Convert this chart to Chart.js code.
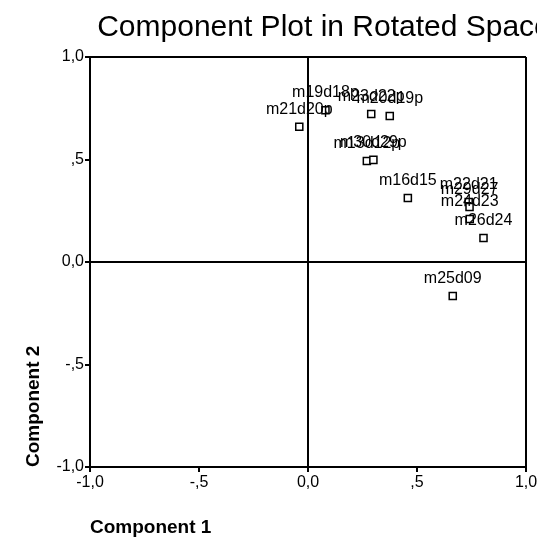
<!DOCTYPE html>
<html>
<head>
<meta charset="utf-8">
<script src="https://cdn.jsdelivr.net/npm/chart.js@4"></script>
<style>
html,body{margin:0;padding:0;background:#fff;overflow:hidden;}
#wrap{width:648px;height:547px;}
</style>
</head>
<body>
<div id="wrap"><canvas id="c" width="648" height="547"></canvas></div>
<script>
const pointLabels = ['m21d20p','m19d18p','m23d22p','m20d19p','m13d12p','m30d29p','m16d15','m22d21','m29d27','m24d23','m26d24','m25d09'];
const component1 = [-0.04, 0.08, 0.29, 0.375, 0.27, 0.30, 0.458, 0.737, 0.741, 0.742, 0.805, 0.664];
const component2 = [0.66, 0.74, 0.722, 0.712, 0.493, 0.498, 0.312, 0.293, 0.268, 0.21, 0.117, -0.166];
const tickValues = [-1, -0.5, 0, 0.5, 1];
const tickLabels = ['-1,0', '-,5', '0,0', ',5', '1,0'];

const FONT = "'Liberation Sans', Arial, sans-serif";

function tickText(v) {
  for (let i = 0; i < tickValues.length; i++) {
    if (Math.abs(tickValues[i] - v) < 1e-9) return tickLabels[i];
  }
  return '';
}
function gridColor(ctx) {
  if (!ctx.tick) return 'rgba(0,0,0,0)';
  const v = ctx.tick.value;
  return (Math.abs(v) < 1e-9 || Math.abs(v - 1) < 1e-9) ? '#000' : 'rgba(0,0,0,0)';
}

const labelPlugin = {
  id: 'pointNames',
  afterDatasetsDraw(chart) {
    const ctx = chart.ctx;
    const meta = chart.getDatasetMeta(0);
    ctx.save();
    ctx.font = '16px ' + FONT;
    ctx.fillStyle = '#000';
    ctx.textAlign = 'center';
    ctx.textBaseline = 'alphabetic';
    meta.data.forEach((el, i) => {
      ctx.fillText(pointLabels[i], el.x, el.y - 13);
    });
    ctx.restore();
  }
};

const data = {
  datasets: [{
    data: component1.map((x, i) => ({x: x, y: component2[i]})),
    xAxisID: 'x',
    yAxisID: 'y',
    pointStyle: 'rect',
    pointRadius: 5,
    pointHoverRadius: 5,
    pointBackgroundColor: '#fff',
    pointBorderColor: '#000',
    pointBorderWidth: 1.5,
    showLine: false
  }]
};

new Chart(document.getElementById('c'), {
  type: 'scatter',
  data: data,
  plugins: [labelPlugin],
  options: {
    responsive: false,
    animation: false,
    events: [],
    layout: {padding: 0},
    plugins: {
      legend: {display: false},
      tooltip: {enabled: false},
      title: {
        display: true,
        text: 'Component Plot in Rotated Space',
        color: '#000',
        font: {family: FONT, size: 30, weight: 'normal', lineHeight: 1.2},
        padding: {top: 10, bottom: 11}
      }
    },
    scales: {
      x: {
        type: 'linear',
        position: 'bottom',
        min: -1, max: 1,
        afterFit(scale) { scale.height = 80; },
        ticks: {
          stepSize: 0.5,
          color: '#000',
          padding: 1,
          maxRotation: 0,
          font: {family: FONT, size: 16},
          callback: (v) => tickText(v)
        },
        grid: {
          color: gridColor,
          tickColor: '#000',
          tickLength: 5,
          lineWidth: 2,
          tickWidth: 2
        },
        border: {display: true, color: '#000', width: 2},
        title: {
          display: true,
          text: 'Component 1',
          align: 'start',
          color: '#000',
          font: {family: FONT, size: 19, weight: 'bold', lineHeight: 1.2},
          padding: {top: 0, bottom: 8}
        }
      },
      y: {
        type: 'linear',
        position: 'left',
        min: -1, max: 1,
        afterFit(scale) { scale.width = 90; },
        ticks: {
          stepSize: 0.5,
          color: '#000',
          padding: 1,
          font: {family: FONT, size: 16},
          callback: (v) => tickText(v)
        },
        grid: {
          color: gridColor,
          tickColor: '#000',
          tickLength: 5,
          lineWidth: 2,
          tickWidth: 2
        },
        border: {display: true, color: '#000', width: 2},
        title: {
          display: true,
          text: 'Component 2',
          align: 'start',
          color: '#000',
          font: {family: FONT, size: 19, weight: 'bold', lineHeight: 1.2},
          padding: {top: 22, bottom: 0}
        }
      },
      yRightSpace: {
        type: 'linear',
        position: 'right',
        min: -1, max: 1,
        afterFit(scale) { scale.width = 122; },
        ticks: {display: false},
        grid: {display: false},
        border: {display: false},
        title: {display: false}
      }
    }
  }
});
</script>
</body>
</html>
